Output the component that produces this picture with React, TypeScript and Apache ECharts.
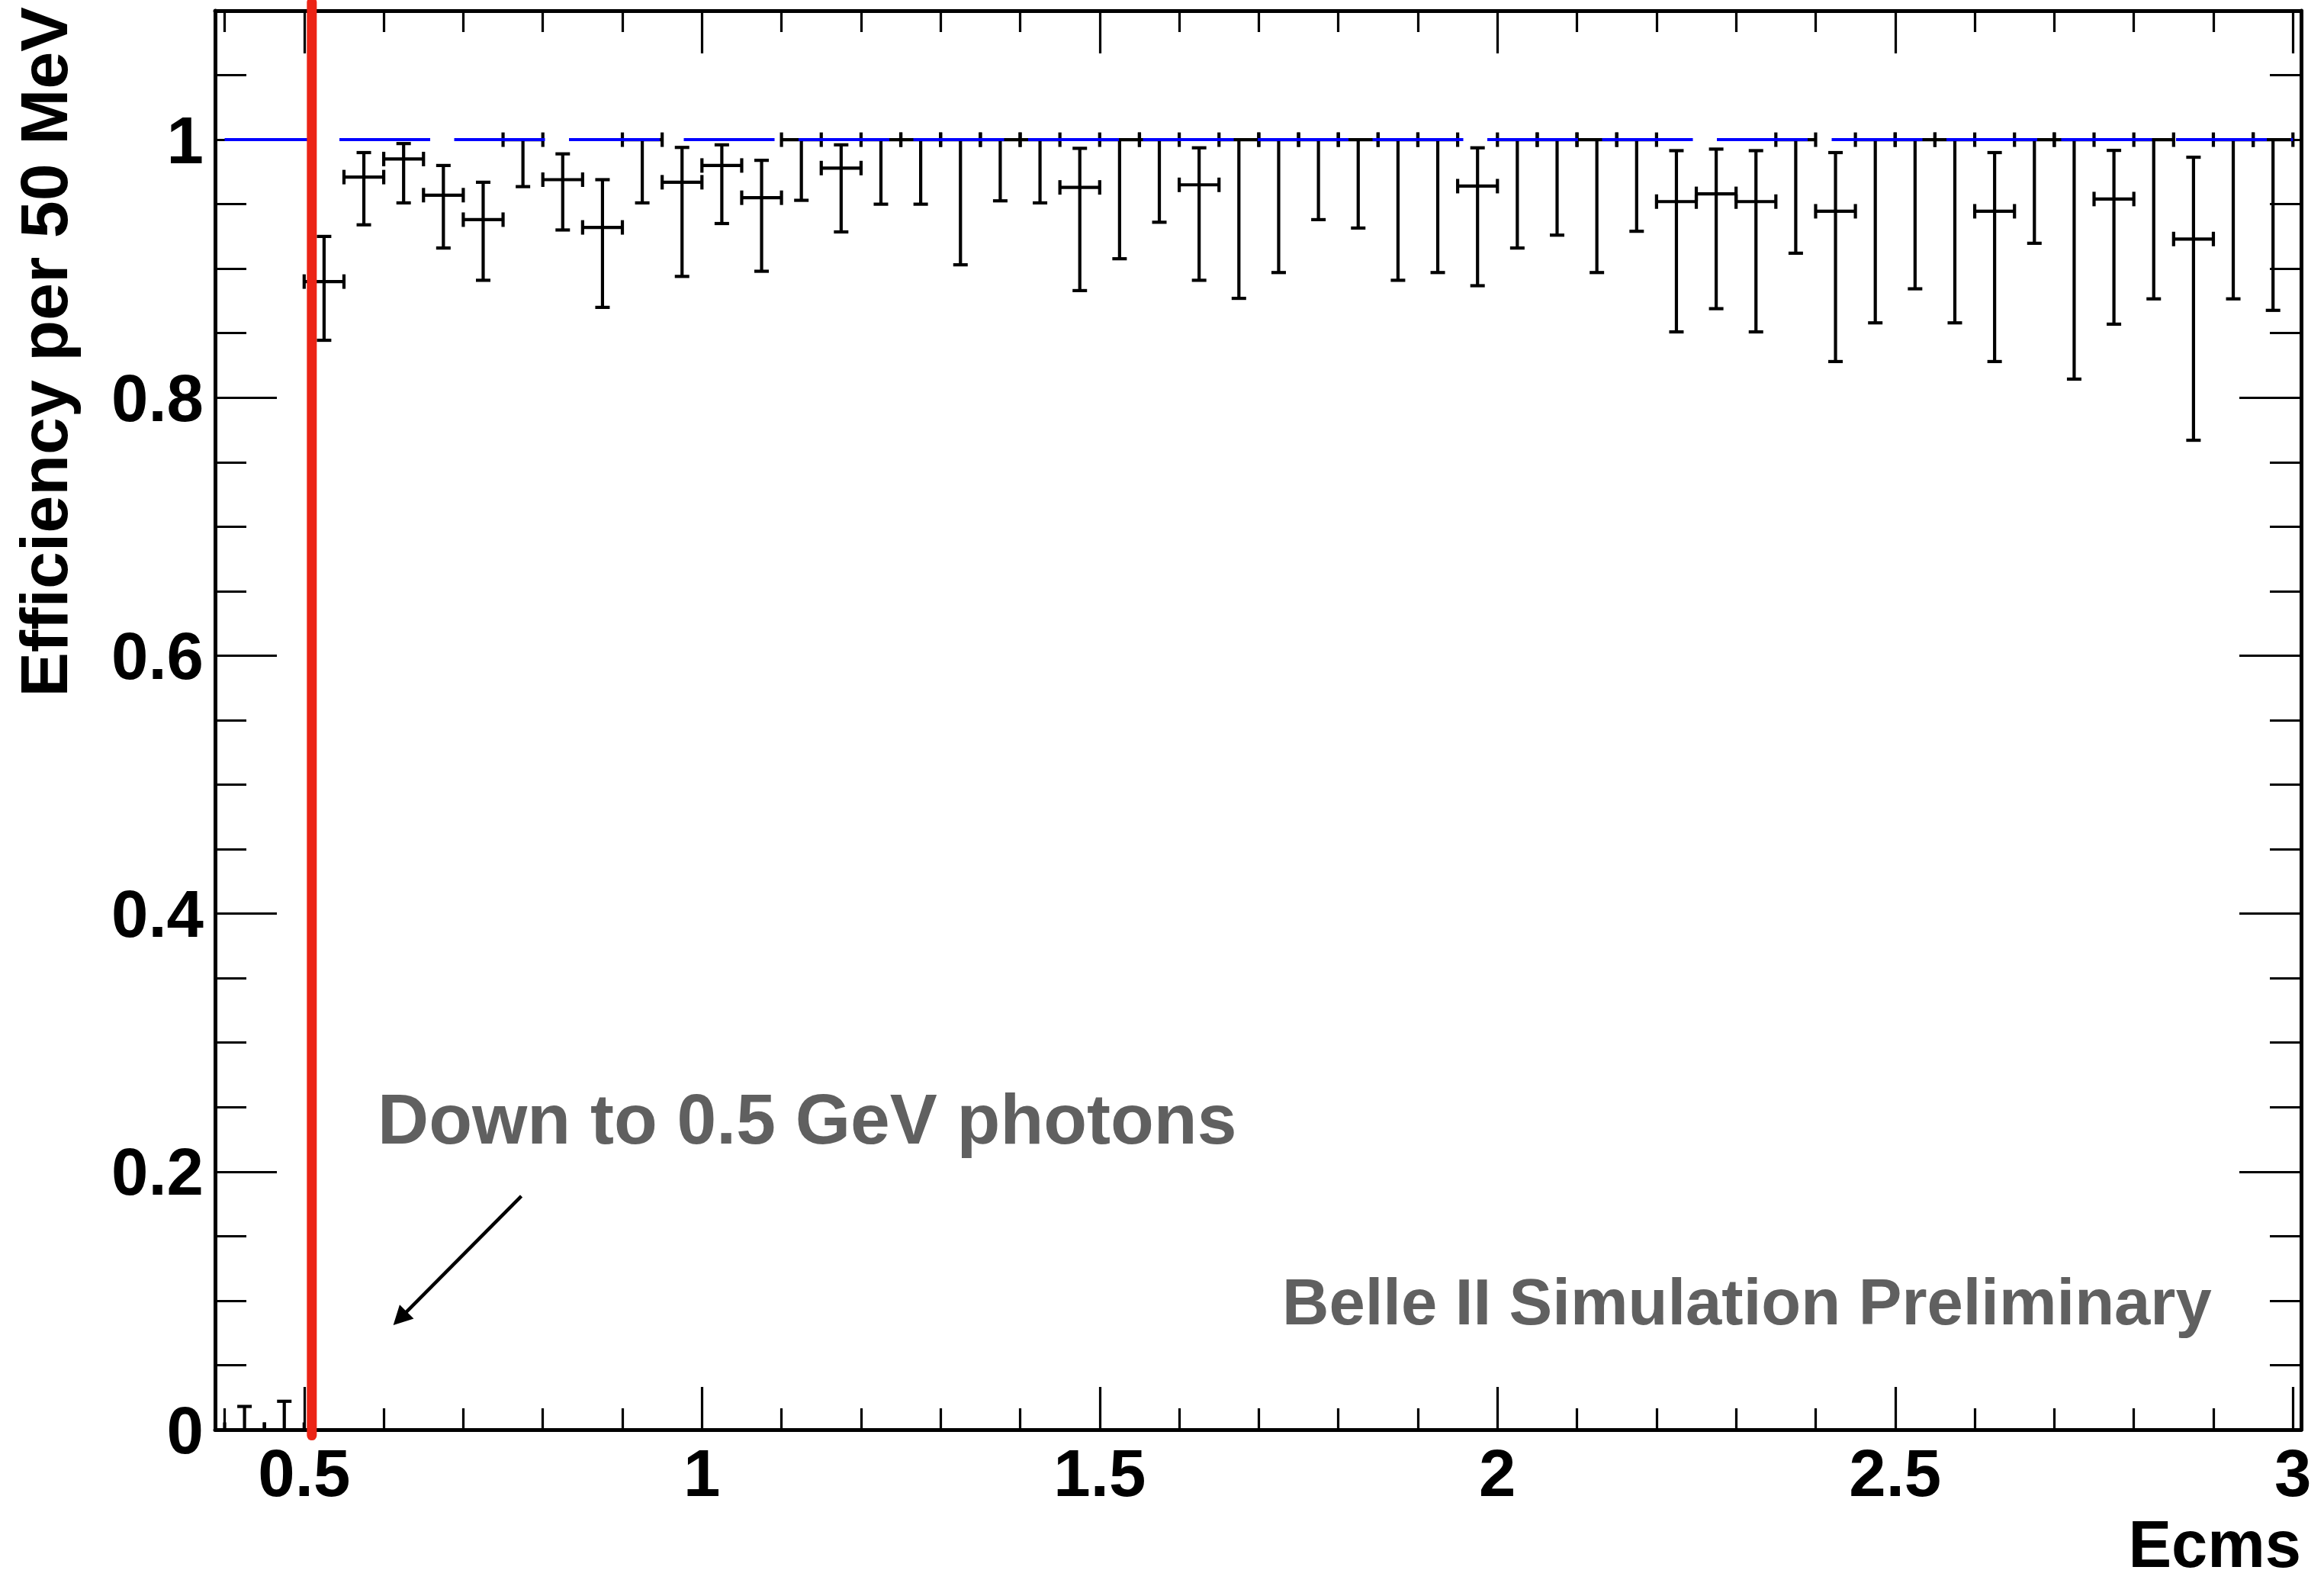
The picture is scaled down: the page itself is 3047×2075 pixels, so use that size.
import { useEffect, useRef } from "react";
import * as echarts from "echarts";

// ---------------- data ----------------
const BIN_CENTERS = [
  0.425, 0.475, 0.525, 0.575, 0.625, 0.675, 0.725, 0.775, 0.825, 0.875,
  0.925, 0.975, 1.025, 1.075, 1.125, 1.175, 1.225, 1.275, 1.325, 1.375,
  1.425, 1.475, 1.525, 1.575, 1.625, 1.675, 1.725, 1.775, 1.825, 1.875,
  1.925, 1.975, 2.025, 2.075, 2.125, 2.175, 2.225, 2.275, 2.325, 2.375,
  2.425, 2.475, 2.525, 2.575, 2.625, 2.675, 2.725, 2.775, 2.825, 2.875,
  2.925, 2.975,
];
const EFFICIENCY = [
  0, 0, 0.89, 0.971, 0.985, 0.957, 0.938, 1, 0.969, 0.932,
  1, 0.967, 0.98, 0.955, 1, 0.978, 1, 1, 1, 1,
  1, 0.963, 1, 1, 0.965, 1, 1, 1, 1, 1,
  1, 0.964, 1, 1, 1, 1, 0.952, 0.958, 0.952, 1,
  0.9445, 1, 1, 1, 0.9445, 1, 1, 0.954, 1, 0.923,
  1, 1,
];
const ERR_LOW_EDGE = [
  0, 0, 0.8445, 0.934, 0.951, 0.916, 0.891, 0.9636, 0.93, 0.87,
  0.951, 0.894, 0.935, 0.898, 0.953, 0.9285, 0.95, 0.95, 0.903, 0.9526,
  0.951, 0.883, 0.9077, 0.936, 0.891, 0.877, 0.897, 0.938, 0.9315, 0.891,
  0.897, 0.8868, 0.916, 0.926, 0.897, 0.929, 0.851, 0.869, 0.851, 0.912,
  0.828, 0.858, 0.8844, 0.858, 0.828, 0.9197, 0.8144, 0.857, 0.8766, 0.767,
  0.8766, 0.8677,
];
const ERR_HIGH_EDGE = [
  0.018, 0.022, 0.925, 0.99, 0.997, 0.98, 0.967, 1, 0.989, 0.969,
  1, 0.994, 0.996, 0.984, 1, 0.996, 1, 1, 1, 1,
  1, 0.9933, 1, 1, 0.9937, 1, 1, 1, 1, 1,
  1, 0.9937, 1, 1, 1, 1, 0.9915, 0.9927, 0.9915, 1,
  0.99, 1, 1, 1, 0.99, 1, 1, 0.9917, 1, 0.9864,
  1, 1,
];
const BIN_HALF_WIDTH = 0.025;

const X_RANGE = [0.388, 3.0103];
const Y_RANGE = [0, 1.1];
const X_MAJOR_TICKS = [0.5, 1, 1.5, 2, 2.5, 3];
const X_MINOR_TICKS = [
  0.4, 0.6, 0.7, 0.8, 0.9, 1.1, 1.2, 1.3, 1.4, 1.6, 1.7, 1.8, 1.9,
  2.1, 2.2, 2.3, 2.4, 2.6, 2.7, 2.8, 2.9,
];
const Y_MAJOR_TICKS = [0, 0.2, 0.4, 0.6, 0.8, 1];
const Y_MINOR_TICKS = [
  0.05, 0.1, 0.15, 0.25, 0.3, 0.35, 0.45, 0.5, 0.55, 0.65, 0.7, 0.75,
  0.85, 0.9, 0.95, 1.05,
];

const REFERENCE_LINE_X = [0.4, 3.0];
const REFERENCE_LEVEL = 1;
const THRESHOLD_X = 0.5096;
const THRESHOLD_Y = [-0.0045, 1.1065];
const ARROW_FROM = [0.773, 0.181];
const ARROW_TO = [0.612, 0.081];

const X_TITLE = "Ecms";
const Y_TITLE = "Efficiency per 50 MeV";
const NOTE_TEXT = "Down to 0.5 GeV photons";
const STATUS_TEXT = "Belle II Simulation Preliminary";

// ---------------- styling ----------------
const W = 3047;
const H = 2075;
const FONT = "'Liberation Sans', Arial, Helvetica, sans-serif";
const GRID = { left: 282, top: 14, right: 30, bottom: 201 };
const AXIS_LW = 5;
const TICK_LW = 3.2;
const X_MAJOR_LEN = 56;
const X_MINOR_LEN = 28;
const Y_MAJOR_LEN = 81;
const Y_MINOR_LEN = 41;
const ERR_LW = 4.2;
const CAP = 9.5;

function xAxisDef(position: string, ticks: number[], len: number, withLine: boolean, withLabels: boolean) {
  return {
    type: "value",
    position,
    min: X_RANGE[0],
    max: X_RANGE[1],
    axisLine: { show: withLine, onZero: false, lineStyle: { color: "#000", width: AXIS_LW } },
    axisTick: { show: true, inside: true, length: len, customValues: ticks, lineStyle: { color: "#000", width: TICK_LW } },
    axisLabel: {
      show: withLabels,
      customValues: ticks,
      margin: 13,
      color: "#000",
      fontFamily: FONT,
      fontWeight: "bold",
      fontSize: 87,
      hideOverlap: false,
    },
    splitLine: { show: false },
    minorTick: { show: false },
  };
}

function yAxisDef(position: string, ticks: number[], len: number, withLine: boolean, withLabels: boolean) {
  return {
    type: "value",
    position,
    min: Y_RANGE[0],
    max: Y_RANGE[1],
    axisLine: { show: withLine, onZero: false, lineStyle: { color: "#000", width: AXIS_LW } },
    axisTick: { show: true, inside: true, length: len, customValues: ticks, lineStyle: { color: "#000", width: TICK_LW } },
    axisLabel: {
      show: withLabels,
      customValues: ticks,
      margin: 15,
      color: "#000",
      fontFamily: FONT,
      fontWeight: "bold",
      fontSize: 87,
      hideOverlap: false,
    },
    splitLine: { show: false },
    minorTick: { show: false },
  };
}

export default function App() {
  const ref = useRef<HTMLDivElement>(null);

  useEffect(() => {
    document.body.style.margin = "0";
    document.body.style.overflow = "hidden";
    const el = ref.current;
    if (!el) return;
    const chart = echarts.init(el, undefined, { renderer: "svg", width: W, height: H });

    const points = BIN_CENTERS.map((x, i) => [x, EFFICIENCY[i], ERR_LOW_EDGE[i], ERR_HIGH_EDGE[i]]);

    const option: any = {
      animation: false,
      backgroundColor: "#ffffff",
      grid: { ...GRID, containLabel: false, outerBoundsMode: "none" },
      xAxis: [
        xAxisDef("bottom", X_MAJOR_TICKS, X_MAJOR_LEN, true, true),
        xAxisDef("bottom", X_MINOR_TICKS, X_MINOR_LEN, false, false),
        xAxisDef("top", X_MAJOR_TICKS, X_MAJOR_LEN, true, false),
        xAxisDef("top", X_MINOR_TICKS, X_MINOR_LEN, false, false),
      ],
      yAxis: [
        yAxisDef("left", Y_MAJOR_TICKS, Y_MAJOR_LEN, true, true),
        yAxisDef("left", Y_MINOR_TICKS, Y_MINOR_LEN, false, false),
        yAxisDef("right", Y_MAJOR_TICKS, Y_MAJOR_LEN, true, false),
        yAxisDef("right", Y_MINOR_TICKS, Y_MINOR_LEN, false, false),
      ],
      series: [
        {
          type: "custom",
          name: "efficiency",
          xAxisIndex: 0,
          yAxisIndex: 0,
          clip: true,
          z: 2,
          silent: true,
          encode: { x: 0, y: 1 },
          data: points,
          renderItem: (_params: any, api: any) => {
            const x = api.value(0);
            const y = api.value(1);
            const c = api.coord([x, y]);
            const l = api.coord([x - BIN_HALF_WIDTH, y]);
            const r = api.coord([x + BIN_HALF_WIDTH, y]);
            const lo = api.coord([x, api.value(2)]);
            const hi = api.coord([x, api.value(3)]);
            const style = { stroke: "#000", lineWidth: ERR_LW, fill: "none" };
            const children: any[] = [
              { type: "line", shape: { x1: l[0], y1: c[1], x2: r[0], y2: c[1] }, style },
              { type: "line", shape: { x1: l[0], y1: c[1] - CAP, x2: l[0], y2: c[1] + CAP }, style },
              { type: "line", shape: { x1: r[0], y1: c[1] - CAP, x2: r[0], y2: c[1] + CAP }, style },
            ];
            if (hi[1] < c[1] - 0.5) {
              children.push({ type: "line", shape: { x1: c[0], y1: c[1], x2: c[0], y2: hi[1] }, style });
              children.push({ type: "line", shape: { x1: c[0] - CAP, y1: hi[1], x2: c[0] + CAP, y2: hi[1] }, style });
            }
            if (lo[1] > c[1] + 0.5) {
              children.push({ type: "line", shape: { x1: c[0], y1: c[1], x2: c[0], y2: lo[1] }, style });
              children.push({ type: "line", shape: { x1: c[0] - CAP, y1: lo[1], x2: c[0] + CAP, y2: lo[1] }, style });
            }
            return { type: "group", children };
          },
        },
        {
          type: "line",
          name: "reference",
          xAxisIndex: 0,
          yAxisIndex: 0,
          z: 3,
          silent: true,
          symbol: "none",
          data: REFERENCE_LINE_X.map((x) => [x, REFERENCE_LEVEL]),
          lineStyle: { color: "#0000ff", width: 4, type: [119, 31.5] },
        },
        {
          type: "line",
          name: "threshold",
          xAxisIndex: 0,
          yAxisIndex: 0,
          z: 4,
          silent: true,
          clip: false,
          symbol: "none",
          data: THRESHOLD_Y.map((y) => [THRESHOLD_X, y]),
          lineStyle: { color: "#ec2416", width: 13, cap: "round" },
        },
      ],
    };
    chart.setOption(option);

    const p0 = chart.convertToPixel({ xAxisIndex: 0, yAxisIndex: 0 }, ARROW_FROM) as number[];
    const p1 = chart.convertToPixel({ xAxisIndex: 0, yAxisIndex: 0 }, ARROW_TO) as number[];
    const dx = p1[0] - p0[0];
    const dy = p1[1] - p0[1];
    const len = Math.hypot(dx, dy);
    const ux = dx / len;
    const uy = dy / len;
    const headLen = 25;
    const headHalf = 13;
    const bx = p1[0] - ux * headLen;
    const by = p1[1] - uy * headLen;

    chart.setOption({
      graphic: [
        {
          type: "line",
          z: 10,
          silent: true,
          shape: { x1: p0[0], y1: p0[1], x2: bx + ux * 3, y2: by + uy * 3 },
          style: { stroke: "#000", lineWidth: 4.5 },
        },
        {
          type: "polygon",
          z: 10,
          silent: true,
          shape: {
            points: [
              [p1[0], p1[1]],
              [bx - uy * headHalf, by + ux * headHalf],
              [bx + uy * headHalf, by - ux * headHalf],
            ],
          },
          style: { fill: "#000" },
        },
        {
          type: "text",
          z: 10,
          silent: true,
          x: 495,
          y: 1499 - 0.3465 * 93,
          style: {
            text: NOTE_TEXT,
            fontFamily: FONT,
            fontWeight: "bold",
            fontSize: 93,
            fill: "#606060",
            align: "left",
            verticalAlign: "middle",
          },
        },
        {
          type: "text",
          z: 10,
          silent: true,
          x: 1681,
          y: 1736 - 0.3465 * 85,
          style: {
            text: STATUS_TEXT,
            fontFamily: FONT,
            fontWeight: "bold",
            fontSize: 85,
            fill: "#606060",
            align: "left",
            verticalAlign: "middle",
          },
        },
        {
          type: "text",
          z: 10,
          silent: true,
          x: 3017,
          y: 2054 - 0.3465 * 88,
          scaleX: 0.965,
          style: {
            text: X_TITLE,
            fontFamily: FONT,
            fontWeight: "bold",
            fontSize: 88,
            fill: "#000",
            align: "right",
            verticalAlign: "middle",
          },
        },
        {
          type: "text",
          z: 10,
          silent: true,
          x: 88 - 0.3465 * 88,
          y: 9,
          rotation: Math.PI / 2,
          style: {
            text: Y_TITLE,
            fontFamily: FONT,
            fontWeight: "bold",
            fontSize: 88,
            fill: "#000",
            align: "right",
            verticalAlign: "middle",
          },
        },
      ],
    });

    return () => {
      chart.dispose();
    };
  }, []);

  return (
    <div
      ref={ref}
      style={{ position: "fixed", left: 0, top: 0, width: W, height: H, background: "#fff" }}
    />
  );
}
